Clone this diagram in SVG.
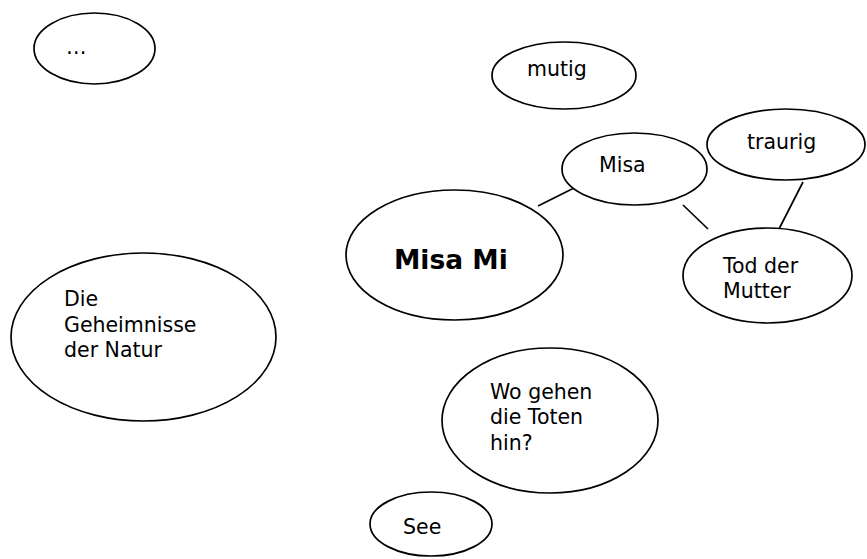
<svg xmlns="http://www.w3.org/2000/svg" width="867" height="559" viewBox="0 0 867 559">
<style>
.n{fill:#fff;stroke:#000;stroke-width:1.7}
.t{font-family:"DejaVu Sans",Verdana,sans-serif;font-size:20.5px;fill:#000}
.b{font-weight:bold;font-size:26.5px}
.c{stroke:#000;stroke-width:1.7;fill:none}
</style>
<rect width="867" height="559" fill="#fff"/>
<g id="connectors">
<line class="c" x1="538" y1="206" x2="588" y2="181"/>
<line class="c" x1="683" y1="205" x2="708" y2="229"/>
<line class="c" x1="803" y1="182" x2="779" y2="229"/>
</g>
<g id="dots"><ellipse class="n" cx="94.5" cy="48.5" rx="60.5" ry="35.5"/><text class="t" x="66" y="54">…</text></g>
<g id="mutig"><ellipse class="n" cx="564" cy="75.5" rx="72" ry="33.5"/><text class="t" x="527" y="76">mutig</text></g>
<g id="traurig"><ellipse class="n" cx="786" cy="144.5" rx="79" ry="35.5"/><text class="t" x="747" y="149">traurig</text></g>
<g id="misa"><ellipse class="n" cx="634.5" cy="169" rx="72.5" ry="36"/><text class="t" x="599" y="172">Misa</text></g>
<g id="misami"><ellipse class="n" cx="454.5" cy="255" rx="108.5" ry="65"/><text class="t b" x="394" y="269">Misa Mi</text></g>
<g id="tod"><ellipse class="n" cx="767.5" cy="275.5" rx="84.5" ry="47.5"/><text class="t" x="723" y="273">Tod der</text><text class="t" x="723" y="298">Mutter</text></g>
<g id="natur"><ellipse class="n" cx="143.5" cy="337" rx="132.5" ry="84"/><text class="t" x="64" y="306">Die</text><text class="t" x="64" y="332">Geheimnisse</text><text class="t" x="64" y="357">der Natur</text></g>
<g id="toten"><ellipse class="n" cx="550" cy="420.5" rx="108" ry="72.5"/><text class="t" x="490" y="399">Wo gehen</text><text class="t" x="490" y="424">die Toten</text><text class="t" x="490" y="450">hin?</text></g>
<g id="see"><ellipse class="n" cx="431" cy="524" rx="61" ry="32"/><text class="t" x="403" y="534">See</text></g>
</svg>
